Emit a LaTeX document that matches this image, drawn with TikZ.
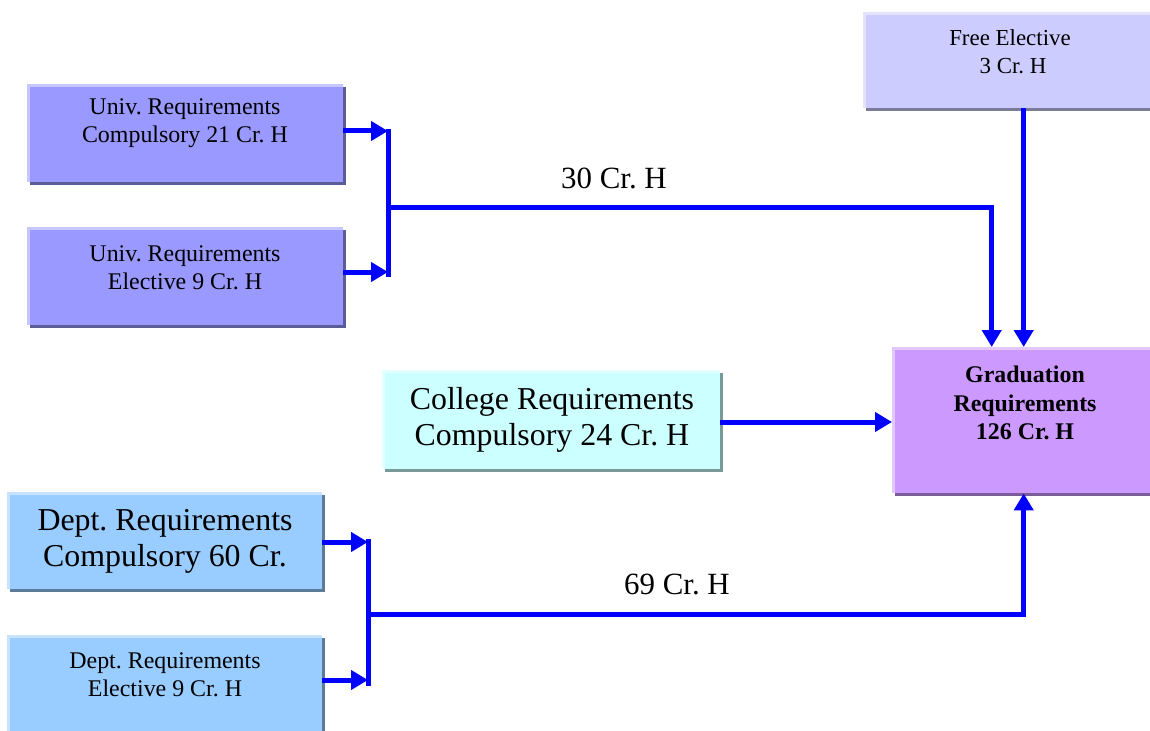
\documentclass[tikz,border=0pt]{standalone}
\usepackage{fontspec}
\setmainfont{Liberation Serif}
\usetikzlibrary{arrows.meta,shadows}
\definecolor{univ}{HTML}{9999FF}
\definecolor{free}{HTML}{CCCCFF}
\definecolor{coll}{HTML}{CCFFFF}
\definecolor{grad}{HTML}{CC99FF}
\definecolor{dept}{HTML}{99CCFF}
\definecolor{arrblue}{HTML}{0000FF}
\tikzset{
  box/.style={rectangle, draw=none, fill=#1, inner sep=0pt, anchor=north west,
    drop shadow={shadow xshift=3bp, shadow yshift=-3bp, fill=#1!60!black, opacity=1},
    path picture={
      \fill[#1!55!white] (path picture bounding box.north west) rectangle ([yshift=-3bp]path picture bounding box.north east);
      \fill[#1!55!white] (path picture bounding box.north west) rectangle ([xshift=3bp]path picture bounding box.south west);
    }},
  txt/.style={align=center, inner sep=0pt},
  conn/.style={draw=arrblue, line width=5bp},
  arr/.style={conn, -{Triangle[length=17bp,width=19bp]}},
}
\frenchspacing
\begin{document}
\frenchspacing
\begin{tikzpicture}[x=1bp,y=-1bp]
\useasboundingbox (0,0) rectangle (1150,731);
\clip (0,0) rectangle (1150,731);
% boxes
\node[box=univ, minimum width=316bp, minimum height=98bp] (uc) at (27,84) {};
\node[box=univ, minimum width=316bp, minimum height=98bp] (ue) at (27,227) {};
\node[box=free, minimum width=292bp, minimum height=96bp] (fe) at (863,12) {};
\node[box=coll, minimum width=338bp, minimum height=99bp] (col) at (382,370) {};
\node[box=grad, minimum width=263bp, minimum height=146bp] (gr) at (892,347) {};
\node[box=dept, minimum width=315bp, minimum height=97bp] (dc) at (7,492) {};
\node[box=dept, minimum width=315bp, minimum height=105bp] (de) at (7,635) {};
% texts
\node[txt, font=\fontsize{24}{28}\selectfont] (uct) at (185,123) {Univ. Requirements\\Compulsory 21 Cr. H};
\node[txt, font=\fontsize{24}{28}\selectfont] (uet) at (185,268) {Univ. Requirements\\Elective 9 Cr. H};
\node[txt, font=\fontsize{23}{28}\selectfont] (fet) at (1010,52) {Free Elective\\\hspace{6bp}3 Cr. H};
\node[txt, font=\fontsize{32}{36}\selectfont] (colt) at (552,420) {College Requirements\\Compulsory 24 Cr. H};
\node[txt, font=\fontsize{24}{28.5}\selectfont\bfseries] (grt) at (1025,403) {Graduation\\Requirements\\126 Cr. H};
\node[txt, font=\fontsize{32}{36}\selectfont] (dct) at (165,541) {Dept. Requirements\\Compulsory 60 Cr.};
\node[txt, font=\fontsize{24}{28}\selectfont] (det) at (165,675) {Dept. Requirements\\Elective 9 Cr. H};
\node[txt, font=\fontsize{31}{36}\selectfont] (l30) at (614,178) {30 Cr. H};
\node[txt, font=\fontsize{31}{36}\selectfont] (l69) at (677,584) {69 Cr. H};
% junction coordinates
\coordinate (a1) at (388,131);
\coordinate (a2) at (388,272);
\coordinate (m1) at (388,207);
\coordinate (b1) at (368,542);
\coordinate (b2) at (368,680);
\coordinate (m2) at (368,614);
% connectors
\draw[arr] (uc.east |- a1) -- (a1);
\draw[arr] (ue.east |- a2) -- (a2);
\draw[conn] (388,129) -- (388,277);
\draw[arr] (m1) -| ([xshift=-32bp]gr.north);
\draw[arr] (fe.south -| gr.north) -- (gr.north);
\draw[arr] (col.east |- 0,422) -- (gr.west |- 0,422);
\draw[arr] (dc.east |- b1) -- (b1);
\draw[arr] (de.east |- b2) -- (b2);
\draw[conn] (368,539) -- (368,686);
\draw[arr] (m2) -| (gr.south);
\end{tikzpicture}
\end{document}
